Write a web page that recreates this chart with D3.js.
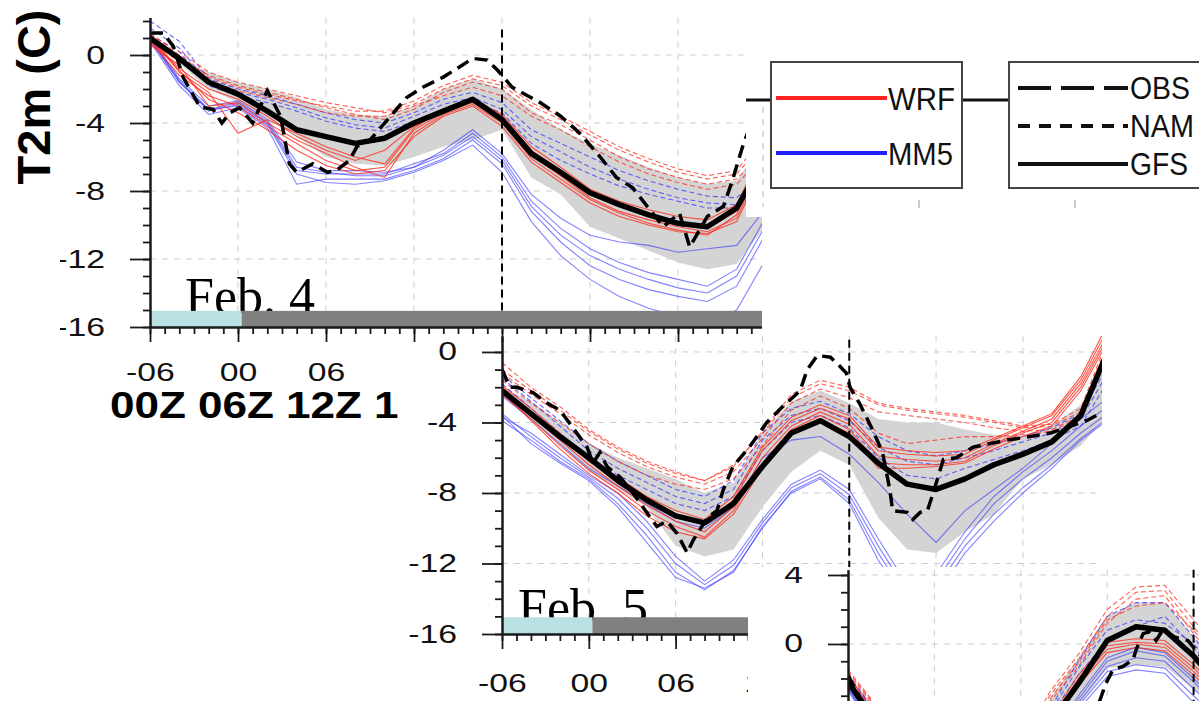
<!DOCTYPE html>
<html>
<head>
<meta charset="utf-8">
<title>T2m ensemble, Feb. 4 - Feb. 6</title>
<style>
  body { margin: 0; background: #fff; }
  svg { display: block; }
</style>
</head>
<body>
<main></main>
<script src="https://cdn.jsdelivr.net/npm/d3@7"></script>
<script>
// ===== data =====================================================
// hours relative to 00Z of each day, 2-hourly
var hours1 = [-6,-4,-2,0,2,4,6,8,10,12,14,16,18,20,22,24,26,28,30,32,34,36];
var hours2 = [-6,-4,-2,0,2,4,6,8,10,12,14,16,18,20,22,24,26,28,30,32,34,36];
var hours3 = [-6,-4,-2,0,2,4,6,8,10,12,14,16,18,20];

// Feb. 4
var gfs1 = [1.0,-0.2,-1.6,-2.3,-3.3,-4.4,-4.8,-5.2,-4.9,-4.0,-3.3,-2.6,-3.8,-5.8,-6.9,-8.1,-8.8,-9.4,-9.9,-10.1,-9.0,-6.0];
var envHi1 = [1.0,-0.3,-1.0,-1.6,-2.0,-2.5,-3.2,-3.5,-3.6,-3.0,-2.0,-1.4,-2.0,-3.2,-4.4,-5.2,-5.9,-6.6,-7.2,-7.6,-7.4,-5.0];
var envLo1 = [1.0,-0.5,-2.0,-2.8,-3.8,-4.8,-6.0,-6.4,-6.5,-6.0,-5.4,-5.0,-4.4,-7.2,-8.2,-10.1,-10.8,-11.5,-12.2,-12.6,-12.3,-10.0];
var wrf1 = [
  [1.0,-0.8,-2.0,-2.6,-3.6,-4.8,-5.6,-6.2,-5.6,-4.2,-3.3,-2.7,-3.6,-5.6,-6.8,-8.1,-8.9,-9.4,-9.8,-10.2,-9.2,-5.5],
  [0.8,-1.2,-2.4,-3.0,-4.2,-5.2,-6.2,-6.8,-6.6,-4.4,-3.4,-2.8,-3.8,-5.9,-7.1,-8.4,-9.2,-9.7,-10.1,-10.4,-9.6,-6.0],
  [0.6,-0.6,-3.0,-2.8,-4.0,-5.0,-5.8,-6.6,-7.2,-4.6,-3.5,-2.9,-4.0,-6.1,-7.3,-8.5,-9.3,-9.9,-10.3,-10.6,-9.4,-5.8],
  [1.1,-1.0,-2.2,-4.6,-3.8,-4.6,-5.4,-6.0,-6.4,-4.3,-3.2,-2.6,-3.5,-5.4,-6.6,-7.9,-8.6,-9.1,-9.5,-9.7,-8.8,-5.2],
  [0.9,-0.9,-2.6,-3.4,-4.4,-5.6,-6.5,-7.0,-6.8,-4.8,-3.6,-3.0,-4.2,-6.3,-7.5,-8.7,-9.5,-10.0,-10.4,-10.5,-9.8,-6.2]
];
var wrfNam1 = [
  [1.2,0.2,-1.0,-1.6,-2.0,-2.4,-2.8,-3.1,-3.4,-2.9,-2.0,-1.4,-1.8,-3.0,-3.8,-4.7,-5.6,-6.3,-6.9,-7.3,-7.0,-5.0],
  [1.0,-0.2,-1.2,-1.8,-2.2,-2.6,-3.1,-3.5,-3.8,-3.2,-2.2,-1.6,-2.0,-3.4,-4.1,-5.0,-6.0,-6.7,-7.2,-7.6,-7.3,-5.5],
  [0.8,-0.4,-1.5,-2.1,-2.5,-2.9,-3.4,-3.6,-3.6,-3.0,-2.4,-1.9,-2.4,-3.6,-4.4,-5.4,-6.3,-7.0,-7.5,-7.9,-7.6,-5.8],
  [1.3,0.0,-1.3,-1.9,-2.3,-2.7,-3.0,-3.3,-3.3,-2.7,-1.8,-1.2,-1.6,-2.8,-3.6,-4.5,-5.4,-6.1,-6.7,-7.1,-6.8,-4.6]
];
var mm51 = [
  [1.0,-1.6,-3.3,-2.9,-4.0,-6.8,-7.0,-7.0,-7.0,-6.4,-5.8,-4.6,-6.0,-8.6,-10.2,-11.4,-12.2,-12.8,-13.2,-13.6,-12.6,-9.5],
  [0.8,-1.8,-3.5,-3.1,-4.3,-7.6,-7.3,-7.3,-7.3,-6.8,-6.1,-5.0,-6.4,-9.2,-11.0,-12.4,-13.2,-13.8,-14.2,-14.5,-13.6,-10.5],
  [1.1,-1.4,-3.0,-2.7,-3.8,-6.3,-6.8,-6.8,-6.9,-6.6,-5.6,-4.4,-5.8,-8.2,-9.6,-10.6,-11.0,-11.2,-11.6,-11.4,-11.2,-9.0],
  [0.9,-1.6,-3.2,-3.0,-4.1,-7.0,-7.5,-7.6,-7.4,-6.9,-6.2,-5.3,-6.9,-9.8,-11.8,-13.2,-14.2,-14.9,-15.4,-15.8,-15.0,-12.0],
  [1.0,-1.5,-3.2,-2.8,-3.9,-6.6,-6.9,-7.1,-7.1,-6.6,-5.9,-4.8,-6.2,-8.9,-10.6,-11.8,-12.6,-13.2,-13.7,-14.0,-13.0,-10.0]
];
var mm5Nam1 = [
  [2.0,0.8,-1.4,-2.0,-2.4,-2.9,-3.4,-3.8,-4.0,-3.4,-2.6,-2.2,-2.8,-4.4,-5.2,-6.0,-6.8,-7.4,-7.9,-8.3,-8.4,-6.8],
  [1.6,0.4,-1.6,-2.2,-2.6,-3.1,-3.7,-4.1,-4.3,-3.6,-2.9,-2.5,-3.2,-4.8,-5.7,-6.6,-7.3,-7.9,-8.4,-8.7,-8.8,-7.2],
  [1.2,0.2,-1.8,-2.4,-2.8,-3.3,-3.9,-4.3,-4.5,-3.9,-3.2,-2.8,-3.4,-5.2,-6.2,-7.0,-7.7,-8.2,-8.6,-9.0,-9.0,-7.6]
];
var obsHours1 = [-6,-5.1,-4.4,-3.75,-2.6,-1.7,-1.1,-0.55,0.1,1.0,2.0,2.9,3.5,4.0,5.1,6.1,6.7,7.6,8.1,9.0,10.2,11.5,12.6,14.0,15.1,16.0,17.0,17.7,18.7,20.6,22.0,23.3,24.7,25.8,26.9,27.9,29.0,30.1,30.8,32.0,33.1,33.7,34.4,35.4];
var obs1 = [1.3,1.3,0.5,-1.3,-3.05,-3.2,-4.0,-3.4,-3.1,-4.0,-2.1,-3.6,-6.4,-6.9,-6.4,-6.9,-6.8,-6.2,-5.4,-5.0,-3.8,-2.5,-1.9,-1.3,-0.7,-0.2,-0.3,-0.9,-1.9,-2.8,-3.6,-4.6,-6.0,-7.2,-7.8,-8.9,-10.1,-9.3,-11.3,-9.5,-8.9,-7.4,-5.4,-3.0];

// Feb. 5
var gfs2 = [-2.2,-3.5,-4.8,-6.0,-7.3,-8.4,-9.3,-9.7,-8.6,-6.5,-4.6,-3.9,-4.8,-6.3,-7.5,-7.8,-7.2,-6.4,-5.8,-5.1,-3.6,0.3];
var envHi2 = [-2.0,-2.8,-4.0,-5.2,-6.0,-6.6,-7.2,-8.0,-7.4,-4.6,-2.8,-2.2,-2.9,-3.8,-4.0,-4.0,-4.4,-4.7,-4.8,-4.2,-3.0,-0.5];
var envLo2 = [-2.4,-3.8,-5.2,-6.8,-7.8,-8.8,-11.0,-11.6,-11.2,-8.8,-6.8,-5.6,-6.4,-9.4,-11.2,-11.4,-10.2,-9.2,-7.2,-6.4,-5.3,-3.5];
var wrf2 = [
  [-2.0,-3.4,-4.8,-6.2,-7.3,-8.4,-9.2,-9.8,-8.4,-5.6,-3.9,-3.2,-3.8,-5.6,-5.8,-5.9,-5.8,-5.0,-4.3,-3.6,-1.6,1.5],
  [-2.2,-3.6,-5.0,-6.4,-7.6,-8.7,-9.6,-10.2,-8.8,-6.0,-4.2,-3.4,-4.1,-5.9,-6.1,-6.2,-6.0,-5.2,-4.5,-3.8,-1.8,1.2],
  [-2.4,-3.8,-5.3,-6.7,-7.8,-9.0,-9.9,-10.5,-9.0,-6.3,-4.4,-3.6,-4.4,-6.3,-6.4,-6.4,-6.2,-5.3,-4.6,-4.0,-2.0,1.0],
  [-1.9,-3.2,-4.6,-6.0,-7.1,-8.2,-9.0,-9.5,-8.2,-5.4,-3.7,-3.0,-3.6,-5.4,-5.6,-5.7,-5.6,-4.9,-4.2,-3.5,-1.4,1.8],
  [-2.3,-3.9,-5.5,-6.9,-8.0,-9.3,-10.2,-10.6,-9.2,-6.6,-4.7,-3.9,-4.6,-6.6,-6.6,-6.5,-6.3,-5.5,-4.8,-4.2,-2.2,0.8]
];
var wrfNam2 = [
  [-0.6,-2.0,-3.1,-4.4,-5.4,-6.2,-6.8,-7.3,-6.4,-4.6,-2.6,-1.8,-2.2,-3.0,-3.3,-3.5,-3.7,-4.0,-4.3,-4.2,-3.4,0.8],
  [-1.2,-2.4,-3.5,-4.7,-5.7,-6.5,-7.1,-7.5,-6.8,-4.9,-2.9,-2.1,-2.6,-3.4,-3.6,-3.8,-4.0,-4.3,-4.5,-4.4,-3.6,0.5],
  [-1.6,-2.9,-4.0,-5.2,-6.2,-7.0,-7.5,-7.8,-7.2,-5.3,-3.3,-2.5,-3.2,-4.6,-5.2,-5.0,-4.8,-4.8,-4.7,-4.5,-3.7,0.4],
  [-1.0,-2.2,-3.3,-4.5,-5.5,-6.3,-6.9,-7.3,-6.5,-4.5,-2.4,-1.6,-2.0,-2.9,-3.2,-3.4,-3.6,-3.9,-4.2,-4.1,-3.2,1.0]
];
var mm52 = [
  [-2.5,-3.8,-5.2,-6.6,-7.6,-8.6,-9.6,-10.0,-8.8,-6.0,-5.0,-4.8,-5.8,-7.4,-9.2,-10.8,-9.0,-7.8,-6.6,-5.2,-3.8,-2.5],
  [-3.7,-4.6,-5.8,-7.0,-8.0,-9.6,-11.6,-13.0,-11.8,-9.5,-7.5,-6.7,-7.8,-10.6,-13.2,-12.6,-10.2,-8.2,-6.8,-5.6,-4.2,-3.0],
  [-3.5,-4.8,-6.0,-7.1,-8.3,-10.0,-12.0,-13.2,-12.1,-9.7,-7.7,-6.9,-8.1,-11.0,-13.6,-13.0,-10.6,-8.6,-7.2,-6.0,-4.6,-3.4],
  [-3.9,-5.0,-6.2,-7.2,-8.6,-10.4,-12.5,-13.5,-12.4,-10.0,-7.9,-7.1,-8.4,-11.4,-14.0,-13.4,-11.0,-9.2,-7.7,-6.4,-4.9,-3.7],
  [-3.6,-5.2,-6.3,-7.3,-8.8,-10.8,-12.8,-13.4,-12.5,-9.9,-8.0,-7.2,-8.6,-11.8,-14.2,-13.8,-11.4,-9.6,-8.0,-6.6,-5.0,-3.8]
];
var mm5Nam2 = [
  [-1.5,-2.8,-4.2,-5.6,-6.6,-7.4,-8.2,-8.6,-7.8,-5.0,-3.6,-3.2,-3.9,-5.4,-6.2,-6.4,-6.0,-5.6,-5.1,-4.6,-3.8,-1.0],
  [-1.8,-3.2,-4.6,-6.0,-7.0,-7.8,-8.6,-9.0,-8.2,-5.6,-4.0,-3.6,-4.3,-6.0,-7.0,-7.2,-6.6,-6.1,-5.6,-5.0,-4.2,-1.5],
  [-1.3,-2.6,-3.9,-5.2,-6.2,-7.0,-7.8,-8.2,-7.3,-4.6,-3.2,-2.8,-3.5,-4.8,-5.6,-5.9,-5.6,-5.2,-4.8,-4.3,-3.5,-0.6]
];
var obsHours2 = [-6,-5.45,-4.96,-3.86,-2.9,-2.0,-1.1,-0.12,0.29,0.77,1.26,2.15,3.05,4.0,4.7,5.4,6.1,6.8,7.2,8.2,8.86,9.3,9.96,11.1,12.3,13.4,14.6,15.1,15.8,16.7,17.4,17.8,18.05,18.7,19.6,20.3,20.8,21.0,22.0,22.4,22.9,23.4,23.8,24.5,25.4,26.55,27.7,28.9,30.5,31.9,33.0,34.4,35.3];
var obs2 = [-1.0,-2.0,-2.0,-2.3,-2.9,-3.3,-4.3,-5.4,-6.3,-5.7,-6.5,-7.1,-8.0,-9.1,-9.9,-9.6,-10.3,-11.4,-10.7,-9.4,-9.0,-7.8,-6.5,-5.4,-4.0,-3.1,-2.2,-1.0,-0.2,-0.3,-0.85,-1.2,-2.0,-2.9,-4.4,-5.7,-7.8,-9.0,-9.1,-9.5,-9.1,-9.0,-8.0,-6.1,-6.0,-5.4,-5.2,-5.0,-4.8,-4.6,-4.3,-3.9,-3.5];

// Feb. 6
var gfs3 = [-2.2,-4.6,-6.5,-8.0,-9.0,-9.2,-8.0,-4.6,-2.3,0.2,1.0,0.8,-0.7,-2.6];
var envHi3 = [-1.8,-3.8,-5.6,-7.0,-7.8,-7.6,-6.0,-3.2,-0.8,1.6,2.4,2.4,0.4,-1.5];
var envLo3 = [-2.6,-5.4,-7.4,-9.0,-10.2,-10.6,-9.6,-6.6,-3.6,-1.4,-1.2,-1.3,-2.6,-4.0];
var wrf3 = [
  [-2.0,-4.4,-6.4,-7.8,-8.8,-9.0,-7.8,-4.6,-2.0,-0.1,0.1,0.0,-1.4,-3.0],
  [-2.2,-4.6,-6.6,-8.0,-9.0,-9.2,-8.0,-4.8,-2.2,-0.3,0.0,-0.2,-1.6,-3.2],
  [-1.8,-4.2,-6.2,-7.6,-8.6,-8.8,-7.6,-4.4,-1.8,0.1,0.3,0.2,-1.2,-2.8],
  [-2.4,-4.8,-6.8,-8.2,-9.2,-9.4,-8.2,-5.0,-2.4,-0.5,-0.2,-0.4,-1.8,-3.4]
];
var wrfNam3 = [
  [-1.5,-3.6,-5.6,-7.0,-7.8,-7.6,-5.8,-2.8,-0.6,2.0,3.3,3.4,1.4,-0.6],
  [-1.7,-3.8,-5.8,-7.2,-8.0,-7.8,-6.0,-3.0,-0.9,1.6,3.0,3.1,1.0,-1.0],
  [-1.9,-4.0,-6.0,-7.4,-8.2,-8.0,-6.4,-3.4,-1.3,1.2,2.6,2.8,0.6,-1.4],
  [-1.6,-3.7,-5.7,-7.1,-7.9,-7.7,-6.2,-3.2,-1.1,1.4,2.2,2.4,0.8,-1.2]
];
var mm53 = [
  [-2.4,-5.0,-7.2,-8.8,-10.0,-10.2,-9.0,-5.8,-3.2,-1.0,-0.4,-0.7,-2.2,-3.8],
  [-2.6,-5.2,-7.4,-9.0,-10.2,-10.4,-9.2,-6.0,-3.4,-1.3,-0.8,-1.0,-2.6,-4.2],
  [-2.5,-5.1,-7.3,-8.9,-10.1,-10.3,-9.1,-6.2,-3.6,-1.6,-1.2,-1.4,-3.0,-4.6],
  [-2.7,-5.3,-7.5,-9.1,-10.3,-10.5,-9.3,-6.4,-3.8,-1.9,-1.5,-1.7,-3.4,-5.0],
  [-2.3,-4.9,-7.1,-8.7,-9.9,-10.1,-8.9,-5.6,-3.0,-0.8,-0.2,-0.5,-2.0,-3.6]
];
var mm5Nam3 = [
  [-1.8,-4.0,-6.0,-7.4,-8.4,-8.4,-7.0,-3.8,-1.0,1.6,2.4,2.4,0.4,-1.6],
  [-2.0,-4.2,-6.2,-7.6,-8.6,-8.6,-7.2,-4.2,-1.8,0.2,1.0,1.6,-0.2,-2.0],
  [-1.9,-4.1,-6.1,-7.5,-8.5,-8.5,-7.1,-4.0,-1.4,0.8,1.4,1.2,0.0,-1.8]
];
var obsHours3 = [-6,-5,-4,-2,0,2,4,6,8,10,11.5,11.9,12.4,13.1,13.8,14.0,14.5,14.9,15.4,15.85,16.7,17.6,18.0,19.0];
var obs3 = [-1.8,-3.4,-4.8,-7.0,-8.5,-9.8,-10.5,-9.6,-7.8,-5.4,-3.25,-2.3,-1.5,-1.3,-0.9,-0.35,0.6,0.7,0.2,0.8,0.4,0.2,-0.2,-1.2];

// ticks, labels, legend
var hourMajor = [-6,0,6,12,18,24,30,36];
var hourMinor = d3.range(-6, 37);
var xTickLabels = ["-06","00","06","12","18","24","30","36"];
var yTicks = [-16,-12,-8,-4,0];
var yTickLabels = ["-16","-12","-8","-4","0"];
var yTicks3 = [0,4];
var yTickLabels3 = ["0","4"];
var zuluHours = [-6,0,6,12];
var zuluLabels = ["00Z","06Z","12Z","18Z"];
var dayLabels = ["Feb. 4","Feb. 5"];
var lightPeriods = [[-6, 0.25, "day"], [0.25, 36, "night"]];
var legendModels = ["WRF","MM5"];
var legendSources = ["OBS","NAM","GFS"];

// ===== setup ====================================================
var width = 1199, height = 701;
var sans = "'Liberation Sans', Arial, Helvetica, sans-serif";
var serif = "'Liberation Serif', 'Times New Roman', serif";
var red = "#ff2a1a", blue = "#3535ff";

var svg = d3.select("main").append("svg")
    .attr("width", width)
    .attr("height", height);
svg.append("rect").attr("width", width).attr("height", height).attr("fill", "#fff");
var defs = svg.append("defs");

function zip(hs, vs) {
    return hs.map(function (h, i) { return [h, vs[i]]; });
}

function addClip(id, r) {
    defs.append("clipPath").attr("id", id).append("rect")
        .attr("x", r[0]).attr("y", r[1]).attr("width", r[2]).attr("height", r[3]);
}

// widen text the way the pasted figure is stretched
function stretch(sel, k) {
    sel.each(function () {
        var w = this.getComputedTextLength();
        this.setAttribute("textLength", w * k);
        this.setAttribute("lengthAdjust", "spacingAndGlyphs");
    });
}

// ===== one panel ================================================
function drawPanel(p) {
    var x = p.x, y = p.y;
    addClip(p.id + "-all", p.clip);
    addClip(p.id + "-plot", p.plotClip);

    var g = svg.append("g").attr("clip-path", "url(#" + p.id + "-all)");
    if (p.bg) {
        g.append("rect").attr("x", p.bg[0]).attr("y", p.bg[1])
            .attr("width", p.bg[2]).attr("height", p.bg[3]).attr("fill", "#fff");
    }

    // grid
    var yd = y.domain(), xd = x.domain();
    var grid = g.append("g")
        .attr("stroke", "#cdcdcd").attr("stroke-width", 1).attr("stroke-dasharray", "6,6");
    grid.selectAll("line.gy")
        .data(p.yGrid.filter(function (v) { return v > yd[0] && v <= yd[1]; }))
        .enter().append("line")
        .attr("x1", x.range()[0]).attr("x2", x.range()[1])
        .attr("y1", function (d) { return y(d); }).attr("y2", function (d) { return y(d); });
    grid.selectAll("line.gx")
        .data(hourMajor.filter(function (h) { return h > xd[0] && h <= xd[1]; }))
        .enter().append("line")
        .attr("x1", function (d) { return x(d); }).attr("x2", function (d) { return x(d); })
        .attr("y1", y.range()[1]).attr("y2", y.range()[0]);

    // plot area
    var plot = g.append("g").attr("clip-path", "url(#" + p.id + "-plot)");
    var area = d3.area()
        .x(function (d) { return x(d[0]); })
        .y0(function (d) { return y(d[1]); })
        .y1(function (d) { return y(d[2]); });
    plot.append("path")
        .datum(p.hours.map(function (h, i) { return [h, p.envLo[i], p.envHi[i]]; }))
        .attr("d", area)
        .attr("fill", "#d4d4d4");

    var line = d3.line()
        .x(function (d) { return x(d[0]); })
        .y(function (d) { return y(d[1]); });

    function members(list, color, dash, op) {
        plot.append("g").selectAll("path")
            .data(list)
            .enter().append("path")
            .attr("d", function (d) { return line(zip(p.hours, d)); })
            .attr("fill", "none")
            .attr("stroke", color)
            .attr("stroke-width", 1.1)
            .attr("stroke-opacity", op)
            .attr("stroke-dasharray", dash);
    }
    members(p.mm5, blue, null, 0.62);
    members(p.mm5Nam, blue, "5,3", 0.75);
    members(p.wrfNam, red, "5,3", 0.75);
    members(p.wrf, red, null, 0.8);

    plot.append("path")
        .attr("d", line(zip(p.hours, p.gfs)))
        .attr("fill", "none").attr("stroke", "#000")
        .attr("stroke-width", 5.5).attr("stroke-linejoin", "round");
    plot.append("path")
        .attr("d", line(zip(p.obsHours, p.obs)))
        .attr("fill", "none").attr("stroke", "#000")
        .attr("stroke-width", 3.5).attr("stroke-dasharray", "13,7");

    // 18Z marker
    plot.append("line")
        .attr("x1", x(18)).attr("x2", x(18))
        .attr("y1", y(p.markTop)).attr("y2", y.range()[0])
        .attr("stroke", "#000").attr("stroke-width", 2).attr("stroke-dasharray", "8,5");

    // day label and light bar
    if (p.dayLabel) {
        g.append("text")
            .attr("x", p.dayLabelPos[0]).attr("y", p.dayLabelPos[1])
            .attr("font-family", serif).attr("font-size", 52)
            .attr("fill", "#000")
            .text(p.dayLabel);
        var barTop = y(-15.05), barBot = y(-16);
        g.append("g").selectAll("rect")
            .data(lightPeriods)
            .enter().append("rect")
            .attr("x", function (d) { return x(d[0]); })
            .attr("width", function (d) { return x(d[1]) - x(d[0]); })
            .attr("y", barTop)
            .attr("height", barBot - barTop)
            .attr("fill", function (d) { return d[2] === "day" ? "#b9e1e4" : "#808080"; });
    }

    // axes
    var ax = g.append("g").attr("color", "#1a1a1a");
    var x0 = x.range()[0];
    ax.append("g").attr("transform", "translate(" + x0 + ",0)")
        .call(d3.axisLeft(y).tickValues(p.yMinor).tickSize(7).tickSizeOuter(0).tickFormat(""));
    ax.append("g").attr("transform", "translate(" + x0 + ",0)")
        .call(d3.axisLeft(y).tickValues(p.yTicks).tickSize(20).tickSizeOuter(0).tickPadding(25)
            .tickFormat(function (d, i) { return p.yLabels[i]; }));

    if (p.xAxis) {
        var yb = y.range()[0];
        ax.append("g").attr("transform", "translate(0," + yb + ")")
            .call(d3.axisBottom(x).tickValues(hourMinor).tickSize(7).tickSizeOuter(0).tickFormat(""));
        var xMaj = ax.append("g").attr("transform", "translate(0," + yb + ")")
            .call(d3.axisBottom(x).tickValues(hourMajor).tickSize(15).tickSizeOuter(0)
                .tickFormat(function (d, i) { return xTickLabels[i]; }));
        xMaj.selectAll("text").attr("y", p.xLabelDy).attr("dy", 0);
    }

    ax.selectAll("path.domain").attr("stroke-width", 2);
    ax.selectAll(".tick line").attr("stroke-width", 1.8);
    ax.selectAll("text")
        .attr("font-family", sans).attr("font-size", 25).attr("fill", "#111");
    stretch(ax.selectAll("text"), 1.35);
    return g;
}

// ===== panel 1 : Feb. 4 ==========================================
var x1 = d3.scaleLinear().domain([-6, 36]).range([150, 766]);
drawPanel({
    id: "p1",
    clip: [0, 0, 762, 701], bg: null,
    plotClip: [150, 17, 612, 310],
    x: x1,
    y: d3.scaleLinear().domain([-16, 2.2]).range([327, 17.6]),
    hours: hours1, gfs: gfs1, envHi: envHi1, envLo: envLo1,
    wrf: wrf1, wrfNam: wrfNam1, mm5: mm51, mm5Nam: mm5Nam1,
    obsHours: obsHours1, obs: obs1,
    yTicks: yTicks, yLabels: yTickLabels, yGrid: yTicks, yMinor: d3.range(-16, 3),
    xAxis: true, xLabelDy: 54, markTop: 1.5,
    dayLabel: dayLabels[0], dayLabelPos: [185, 314]
});

// left label, with the strip it was pasted on
svg.append("rect").attr("x", 0).attr("y", 0).attr("width", 60).attr("height", 383).attr("fill", "#fff");
svg.append("text")
    .attr("transform", "translate(50,97) rotate(-90)")
    .attr("text-anchor", "middle")
    .attr("font-family", sans).attr("font-weight", "bold").attr("font-size", 47)
    .attr("fill", "#000")
    .text("T2m (C)");

// UTC row under the hour labels (its right end is hidden by the Feb. 5 panel)
svg.append("g").attr("clip-path", "url(#zclip)").selectAll("text")
    .data(zuluLabels)
    .enter().append("text")
    .attr("x", function (d, i) { return x1(zuluHours[i]) - 2; })
    .attr("y", 418)
    .attr("text-anchor", "middle")
    .attr("font-family", sans).attr("font-weight", "bold").attr("font-size", 36)
    .attr("textLength", 76).attr("lengthAdjust", "spacingAndGlyphs")
    .attr("fill", "#000")
    .text(function (d) { return d; });
addClip("zclip", [0, 340, 398, 100]);

// ===== legend ===================================================
var lg = svg.append("g").attr("font-family", sans);
lg.append("rect").attr("x", 746).attr("y", 0).attr("width", 453).attr("height", 217).attr("fill", "#fff");
lg.append("line").attr("x1", 763).attr("x2", 763).attr("y1", 107).attr("y2", 207)
    .attr("stroke", "#cfcfcf").attr("stroke-width", 1.5).attr("stroke-dasharray", "6,6");
[919, 1075].forEach(function (tx) {
    lg.append("line").attr("x1", tx).attr("x2", tx).attr("y1", 200).attr("y2", 208)
        .attr("stroke", "#bbb").attr("stroke-width", 1.5);
});
lg.append("line").attr("x1", 746).attr("x2", 771).attr("y1", 100).attr("y2", 100)
    .attr("stroke", "#111").attr("stroke-width", 3);
lg.append("line").attr("x1", 962).attr("x2", 1009).attr("y1", 100).attr("y2", 100)
    .attr("stroke", "#111").attr("stroke-width", 3);
lg.append("rect").attr("x", 771).attr("y", 62).attr("width", 191).attr("height", 126)
    .attr("fill", "none").attr("stroke", "#444").attr("stroke-width", 2);
lg.append("rect").attr("x", 1009).attr("y", 62).attr("width", 200).attr("height", 126)
    .attr("fill", "none").attr("stroke", "#444").attr("stroke-width", 2);

var modelY = [98, 153], modelW = [67, 65];
legendModels.forEach(function (name, i) {
    lg.append("line").attr("x1", 776).attr("x2", 887).attr("y1", modelY[i]).attr("y2", modelY[i])
        .attr("stroke", i === 0 ? "#ff2020" : "#2020ff").attr("stroke-width", 4);
    lg.append("text").attr("x", 888).attr("y", modelY[i] + 12)
        .attr("font-size", 32).attr("fill", "#111")
        .attr("textLength", modelW[i]).attr("lengthAdjust", "spacingAndGlyphs")
        .text(name);
});
var srcY = [88, 126, 164], srcDash = ["33,10", "12,9", null], srcW = [60, 64, 58];
legendSources.forEach(function (name, i) {
    lg.append("line").attr("x1", 1018).attr("x2", 1128).attr("y1", srcY[i]).attr("y2", srcY[i])
        .attr("stroke", "#111").attr("stroke-width", 4).attr("stroke-dasharray", srcDash[i]);
    lg.append("text").attr("x", 1130).attr("y", srcY[i] + 11)
        .attr("font-size", 31).attr("fill", "#111")
        .attr("textLength", srcW[i]).attr("lengthAdjust", "spacingAndGlyphs")
        .text(name);
});

// ===== panel 2 : Feb. 5 ==========================================
drawPanel({
    id: "p2",
    clip: [398, 336, 704, 365], bg: [398, 343, 704, 358],
    plotClip: [502, 336, 600, 298],
    x: d3.scaleLinear().domain([-6, 36]).range([502, 1109.7]),
    y: d3.scaleLinear().domain([-16, 0.9]).range([634, 336.1]),
    hours: hours2, gfs: gfs2, envHi: envHi2, envLo: envLo2,
    wrf: wrf2, wrfNam: wrfNam2, mm5: mm52, mm5Nam: mm5Nam2,
    obsHours: obsHours2, obs: obs2,
    yTicks: yTicks, yLabels: yTickLabels, yGrid: yTicks, yMinor: d3.range(-16, 1),
    xAxis: true, xLabelDy: 58, markTop: 0.7,
    dayLabel: dayLabels[1], dayLabelPos: [518, 625]
});

// ===== panel 3 : Feb. 6 (partly shown) ===========================
drawPanel({
    id: "p3",
    clip: [748, 567, 451, 134], bg: [748, 567, 451, 134],
    plotClip: [848, 569, 351, 132],
    x: d3.scaleLinear().domain([-6, 20]).range([848, 1222.4]),
    y: d3.scaleLinear().domain([-4, 4.3]).range([713, 569.8]),
    hours: hours3, gfs: gfs3, envHi: envHi3, envLo: envLo3,
    wrf: wrf3, wrfNam: wrfNam3, mm5: mm53, mm5Nam: mm5Nam3,
    obsHours: obsHours3, obs: obs3,
    yTicks: yTicks3, yLabels: yTickLabels3, yGrid: [-4, 0, 4], yMinor: d3.range(-4, 5),
    xAxis: false, markTop: 4.3,
    dayLabel: null
});
</script>
</body>
</html>
